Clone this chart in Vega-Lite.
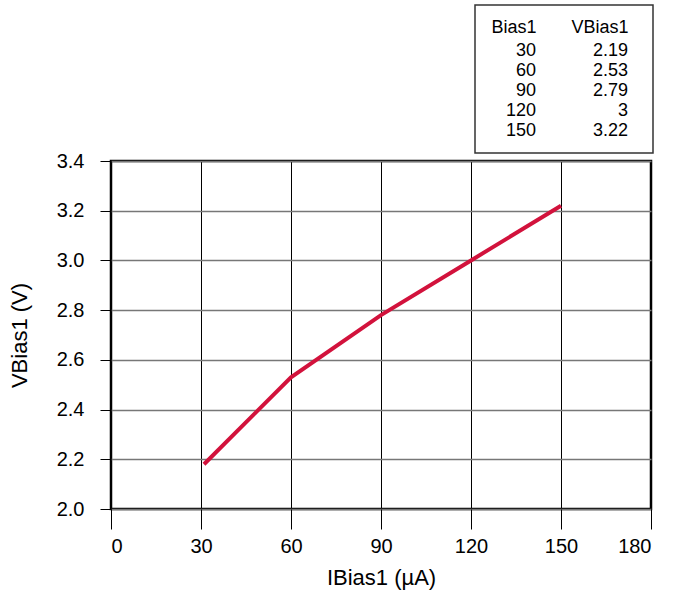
{
  "$schema": "https://vega.github.io/schema/vega-lite/v6.json",
  "padding": {"left": 6, "top": 4, "right": 5, "bottom": 5},
  "background": "white",
  "spacing": -5,
  "config": {
    "font": "Liberation Sans",
    "view": {"stroke": null},
    "axis": {"labelColor": "black", "titleColor": "black", "titleFontWeight": "normal", "labelFont": "Liberation Sans", "titleFont": "Liberation Sans"}
  },
  "datasets": {
    "table": [
      {"Bias1": 30, "VBias1": 2.19},
      {"Bias1": 60, "VBias1": 2.53},
      {"Bias1": 90, "VBias1": 2.79},
      {"Bias1": 120, "VBias1": 3},
      {"Bias1": 150, "VBias1": 3.22}
    ],
    "curve": [
      {"IBias1": 31, "VBias1": 2.18},
      {"IBias1": 60, "VBias1": 2.53},
      {"IBias1": 90, "VBias1": 2.78},
      {"IBias1": 120, "VBias1": 3.0},
      {"IBias1": 150, "VBias1": 3.22}
    ]
  },
  "vconcat": [
    {
      "spacing": 0,
      "hconcat": [
        {
          "width": 363,
          "height": 148,
          "data": {"values": []},
          "mark": "rect"
        },
        {
          "width": 178,
          "height": 148,
          "view": {"stroke": "#333333", "strokeWidth": 1.5},
          "data": {"name": "table"},
          "transform": [{"fold": ["Bias1", "VBias1"], "as": ["column", "value"]}],
          "mark": {"type": "text", "align": "right", "baseline": "middle", "fontSize": 18, "color": "black"},
          "encoding": {
            "x": {
              "field": "column", "type": "nominal",
              "scale": {"type": "point", "range": [61, 153], "padding": 0},
              "axis": {"orient": "top", "title": null, "domain": false, "ticks": false, "tickSize": 0, "labelPadding": 0, "offset": -22, "labelAlign": "right", "labelBaseline": "middle", "labelFontSize": 18, "labelAngle": 0, "minExtent": 0, "grid": false}
            },
            "y": {
              "field": "Bias1", "type": "ordinal",
              "scale": {"type": "point", "range": [46, 126], "padding": 0},
              "axis": null
            },
            "text": {"field": "value", "type": "quantitative"}
          }
        }
      ]
    },
    {
      "width": 540,
      "height": 348,
      "view": {"stroke": "black", "strokeWidth": 2.5},
      "data": {"name": "curve"},
      "mark": {"type": "line", "color": "#d2123c", "strokeWidth": 4},
      "encoding": {
        "x": {
          "field": "IBias1", "type": "quantitative",
          "scale": {"domain": [0, 180], "nice": false},
          "axis": {"values": [0, 30, 60, 90, 120, 150, 180], "title": "IBias1 (µA)", "domain": false, "tickSize": 20, "tickColor": "black", "labelPadding": 7, "labelFontSize": 20, "titleFontSize": 22, "titlePadding": 11, "gridColor": "black", "gridWidth": 1, "gridOpacity": 1}
        },
        "y": {
          "field": "VBias1", "type": "quantitative",
          "scale": {"domain": [2.0, 3.4], "nice": false, "zero": false},
          "axis": {"values": [2.0, 2.2, 2.4, 2.6, 2.8, 3.0, 3.2, 3.4], "format": ".1f", "title": "VBias1 (V)", "domain": false, "tickSize": 11, "tickColor": "black", "labelPadding": 16, "labelFontSize": 20, "titleFontSize": 22, "titlePadding": 25, "gridColor": "#777777", "gridWidth": 1.5, "gridOpacity": 1}
        }
      }
    }
  ]
}
